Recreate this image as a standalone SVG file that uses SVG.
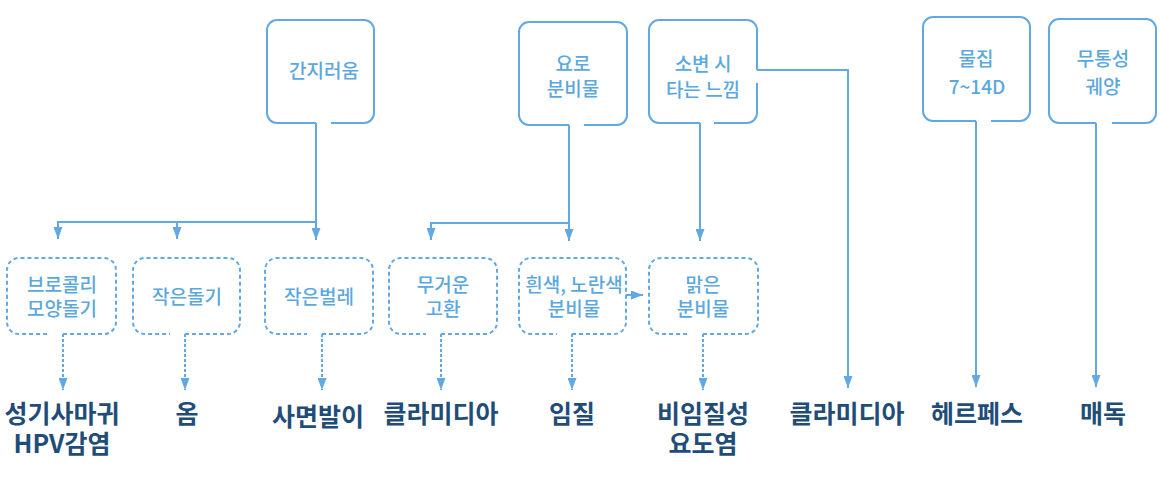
<svg xmlns="http://www.w3.org/2000/svg" width="1160" height="480" viewBox="0 0 1160 480">
<defs>
<style>
.box{fill:none;stroke:#62a8e2;stroke-width:2;}
.dbox{fill:none;stroke:#62a8e2;stroke-width:2;stroke-dasharray:4 3;}
.ln{fill:none;stroke:#62a8e2;stroke-width:2;}
.dl{fill:none;stroke:#62a8e2;stroke-width:2;stroke-dasharray:3 2;}
.lt{font-family:"Noto Sans CJK KR","Noto Sans",sans-serif;font-size:19px;font-weight:500;fill:#5ba8e0;text-anchor:middle;dominant-baseline:central;}
.rt{font-family:"Noto Sans CJK KR","Noto Sans",sans-serif;font-size:25px;font-weight:bold;fill:#1f4d78;text-anchor:middle;dominant-baseline:central;}
</style>
<marker id="ah" viewBox="0 0 12 9" refX="12" refY="4.5" markerWidth="12" markerHeight="9" markerUnits="userSpaceOnUse" orient="auto">
<path d="M0,0 L12,4.5 L0,9 z" fill="#62a8e2"/>
</marker>
</defs>
<rect width="1160" height="480" fill="#ffffff"/>

<g id="n-itch">
<path class="box" d="M331 123 H364 A10 10 0 0 0 374 113 V30 A10 10 0 0 0 364 20 H277 A10 10 0 0 0 267 30 V113 A10 10 0 0 0 277 123 H316"/>
<text class="lt" x="324" y="69">간지러움</text>
</g>
<g id="n-discharge">
<path class="box" d="M584 125 H617 A10 10 0 0 0 627 115 V32 A10 10 0 0 0 617 22 H529 A10 10 0 0 0 519 32 V115 A10 10 0 0 0 529 125 H569"/>
<text class="lt" x="573" y="62">요로</text>
<text class="lt" x="573" y="87">분비물</text>
</g>
<g id="n-burning">
<path class="box" d="M714 123 H747 A10 10 0 0 0 757 113 V83 M757 70 V30 A10 10 0 0 0 747 20 H659 A10 10 0 0 0 649 30 V113 A10 10 0 0 0 659 123 H700"/>
<text class="lt" x="703" y="62">소변 시</text>
<text class="lt" x="703" y="88">타는 느낌</text>
</g>
<g id="n-blister">
<path class="box" d="M991 121 H1020 A10 10 0 0 0 1030 111 V27 A10 10 0 0 0 1020 17 H933 A10 10 0 0 0 923 27 V111 A10 10 0 0 0 933 121 H976"/>
<text class="lt" x="976" y="57">물집</text>
<text class="lt" x="977" y="85">7~14D</text>
</g>
<g id="n-ulcer">
<path class="box" d="M1112 123 H1146 A10 10 0 0 0 1156 113 V29 A10 10 0 0 0 1146 19 H1059 A10 10 0 0 0 1049 29 V113 A10 10 0 0 0 1059 123 H1096"/>
<text class="lt" x="1103" y="57">무통성</text>
<text class="lt" x="1103" y="85">궤양</text>
</g>

<g id="n-broccoli">
<path class="dbox" d="M63 334 H104 A12 12 0 0 0 116 322 V270 A12 12 0 0 0 104 258 H19 A12 12 0 0 0 7 270 V322 A12 12 0 0 0 19 334 H48"/>
<text class="lt" x="62" y="283">브로콜리</text>
<text class="lt" x="62" y="307">모양돌기</text>
</g>
<g id="n-bump">
<path class="dbox" d="M185 334 H228 A12 12 0 0 0 240 322 V270 A12 12 0 0 0 228 258 H145 A12 12 0 0 0 133 270 V322 A12 12 0 0 0 145 334 H170"/>
<text class="lt" x="187" y="295">작은돌기</text>
</g>
<g id="n-bug">
<path class="dbox" d="M322 334 H361 A12 12 0 0 0 373 322 V270 A12 12 0 0 0 361 258 H277 A12 12 0 0 0 265 270 V322 A12 12 0 0 0 277 334 H307"/>
<text class="lt" x="319" y="295">작은벌레</text>
</g>
<g id="n-testis">
<path class="dbox" d="M441 334 H485 A12 12 0 0 0 497 322 V270 A12 12 0 0 0 485 258 H401 A12 12 0 0 0 389 270 V322 A12 12 0 0 0 401 334 H426"/>
<text class="lt" x="443" y="283">무거운</text>
<text class="lt" x="443" y="307">고환</text>
</g>
<g id="n-yellow">
<path class="dbox" d="M572 334 H614 A12 12 0 0 0 626 322 V270 A12 12 0 0 0 614 258 H531 A12 12 0 0 0 519 270 V322 A12 12 0 0 0 531 334 H557"/>
<text class="lt" x="574" y="283">흰색, 노란색</text>
<text class="lt" x="574" y="307">분비물</text>
</g>
<g id="n-clear">
<path class="dbox" d="M703 334 H746 A12 12 0 0 0 758 322 V270 A12 12 0 0 0 746 258 H661 A12 12 0 0 0 649 270 V322 A12 12 0 0 0 661 334 H688"/>
<text class="lt" x="703" y="283">맑은</text>
<text class="lt" x="703" y="307">분비물</text>
</g>

<g id="r-hpv"><text class="rt" x="62" y="412">성기사마귀</text><text class="rt" x="62" y="442">HPV감염</text></g>
<g id="r-scabies"><text class="rt" x="187" y="412">옴</text></g>
<g id="r-lice"><text class="rt" x="318" y="415">사면발이</text></g>
<g id="r-chlamydia1"><text class="rt" x="441" y="412">클라미디아</text></g>
<g id="r-gonorrhea"><text class="rt" x="572" y="412">임질</text></g>
<g id="r-ngu"><text class="rt" x="703" y="412">비임질성</text><text class="rt" x="703" y="442">요도염</text></g>
<g id="r-chlamydia2"><text class="rt" x="847" y="412">클라미디아</text></g>
<g id="r-herpes"><text class="rt" x="977" y="412">헤르페스</text></g>
<g id="r-syphilis"><text class="rt" x="1103" y="412">매독</text></g>

<g id="connectors">
<path class="ln" d="M316 123 V222 H58"/>
<path class="ln" d="M58 221 V239" marker-end="url(#ah)"/>
<path class="ln" d="M177 222 V239" marker-end="url(#ah)"/>
<path class="ln" d="M316 222 V240" marker-end="url(#ah)"/>
<path class="ln" d="M569 125 V223 H431"/>
<path class="ln" d="M431 222 V240" marker-end="url(#ah)"/>
<path class="ln" d="M569 223 V241" marker-end="url(#ah)"/>
<path class="ln" d="M700 123 V241" marker-end="url(#ah)"/>
<path class="ln" d="M757 70 H848 V388" marker-end="url(#ah)"/>
<path class="ln" d="M976 121 V387" marker-end="url(#ah)"/>
<path class="ln" d="M1096 123 V387" marker-end="url(#ah)"/>
<path class="ln" d="M626 295 H643" marker-end="url(#ah)"/>
<path class="dl" d="M63 334 V390" marker-end="url(#ah)"/>
<path class="dl" d="M185 334 V390" marker-end="url(#ah)"/>
<path class="dl" d="M322 334 V390" marker-end="url(#ah)"/>
<path class="dl" d="M441 334 V390" marker-end="url(#ah)"/>
<path class="dl" d="M572 334 V390" marker-end="url(#ah)"/>
<path class="dl" d="M703 334 V390" marker-end="url(#ah)"/>
</g>
</svg>
